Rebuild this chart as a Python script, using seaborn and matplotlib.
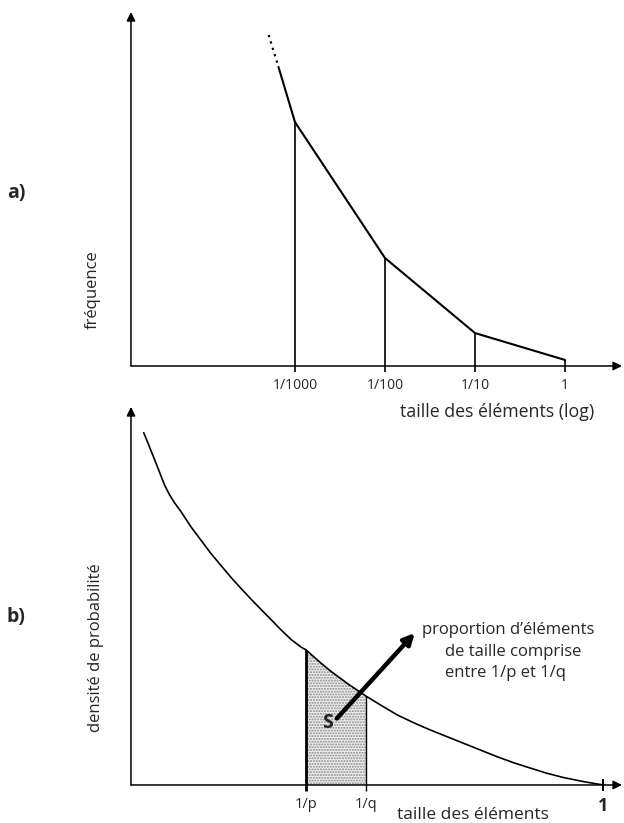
import numpy as np
import pandas as pd
import matplotlib
matplotlib.use("Agg")
import matplotlib.pyplot as plt
import seaborn as sns
from matplotlib.ticker import NullLocator

# panel a : frequency vs element size (log scale)
size_a = [1e-3, 1e-2, 1e-1, 1.0]
size_a_labels = ["1/1000", "1/100", "1/10", "1"]
freq_a = [68.9, 30.5, 9.3, 1.7]
# extension of the curve above 1/1000 (solid then dotted)
size_a_solid = [6.55e-4, 1e-3]
freq_a_solid = [84.5, 68.9]
size_a_dotted = [5.1e-4, 6.55e-4]
freq_a_dotted = [93.5, 84.5]

# panel b : probability density vs element size
size_b = [0.027, 0.039, 0.049, 0.060, 0.071, 0.081, 0.092, 0.106, 0.127,
          0.148, 0.169, 0.191, 0.212, 0.233, 0.254, 0.275, 0.297, 0.318,
          0.339, 0.360, 0.371, 0.400, 0.422, 0.460, 0.498, 0.528, 0.563,
          0.598, 0.633, 0.669, 0.703, 0.739, 0.775, 0.810, 0.845, 0.881,
          0.915, 0.958, 1.0]
dens_b = [93.2, 89.5, 86.4, 82.9, 79.4, 76.9, 74.7, 72.3, 68.3,
          64.8, 61.3, 58.0, 54.9, 52.0, 49.2, 46.5, 43.7, 41.0,
          38.5, 36.5, 35.7, 32.5, 30.2, 26.7, 23.5, 21.2, 18.6,
          16.5, 14.6, 12.8, 11.1, 9.3, 7.5, 5.9, 4.5, 3.1,
          2.0, 0.9, 0.0]
p_inv = 0.371
q_inv = 0.498
ticks_b = [p_inv, q_inv, 1.0]
ticks_b_labels = ["1/p", "1/q", "1"]

df_a = pd.DataFrame({"taille": size_a, "freq": freq_a})
df_b = pd.DataFrame({"taille": size_b, "dens": dens_b})

sns.set_style("white")
plt.rcParams["font.family"] = ["Open Sans", "DejaVu Sans"]

fig = plt.figure(figsize=(6.24, 8.23), dpi=100)
ax1 = fig.add_axes([0.2099, 0.5553, 0.7869, 0.4301])
ax2 = fig.add_axes([0.2099, 0.0462, 0.7869, 0.4593])


def draw_axes(ax):
    for s in ax.spines.values():
        s.set_visible(False)
    arrow = dict(arrowstyle="-|>", color="k", lw=1.1, mutation_scale=13,
                 shrinkA=0, shrinkB=0)
    ax.annotate("", xy=(1, 0), xytext=(0, 0), xycoords="axes fraction",
                arrowprops=arrow)
    ax.annotate("", xy=(0, 1), xytext=(0, 0), xycoords="axes fraction",
                arrowprops=arrow)
    ax.set_yticks([])
    ax.set_xlabel("")
    ax.set_ylabel("")
    ax.tick_params(axis="x", which="major", length=0, pad=9)


# ---- panel a ----
ax1.set_xscale("log")
sns.lineplot(data=df_a, x="taille", y="freq", color="k", lw=1.5, ax=ax1)
ax1.plot(size_a_solid, freq_a_solid, color="k", lw=1.5)
ax1.plot(size_a_dotted, freq_a_dotted, color="k", lw=1.6, ls=(0, (1.0, 2.0)))
# vertical lines, running a little below the axis as tick marks
ax1.vlines(size_a, -1.8, freq_a, color="k", lw=1.2, clip_on=False)
ax1.set_xlim(10 ** -4.822, 10 ** 0.633)
ax1.set_ylim(0, 100)
draw_axes(ax1)
ax1.xaxis.set_minor_locator(NullLocator())
ax1.set_xticks(size_a)
ax1.set_xticklabels(size_a_labels, fontsize=10)

# ---- panel b ----
sns.lineplot(data=df_b, x="taille", y="dens", color="k", lw=1.2, ax=ax2)
sel = df_b[(df_b["taille"] >= p_inv) & (df_b["taille"] <= q_inv)]
ax2.fill_between(sel["taille"], 0, sel["dens"], facecolor="#efefef",
                 hatch="......", edgecolor="#888888", lw=0)
ax2.vlines(p_inv, -1.6, dens_b[size_b.index(p_inv)], color="k", lw=2.0,
           clip_on=False)
ax2.vlines(q_inv, -1.6, dens_b[size_b.index(q_inv)], color="k", lw=1.0,
           clip_on=False)
ax2.vlines(1.0, -1.6, 1.6, color="k", lw=1.4, clip_on=False)
ax2.set_xlim(0, 1.040)
ax2.set_ylim(0, 100)
draw_axes(ax2)
ax2.set_xticks(ticks_b)
ax2.set_xticklabels(ticks_b_labels, fontsize=10.5)
ax2.get_xticklabels()[2].set_fontsize(13)
ax2.get_xticklabels()[2].set_fontweight("bold")

ax2.text(0.416, 16.3, "S", fontsize=14, fontweight="bold", ha="center",
         va="center")
ax2.annotate("", xy=(0.601, 40.2), xytext=(0.436, 17.6),
             arrowprops=dict(arrowstyle="-|>", color="k", lw=3.2,
                             mutation_scale=16, shrinkA=0, shrinkB=0))

# ---- texts ----
fig.text(16 / 624, 1 - 193 / 823, "a)", fontsize=14, fontweight="bold",
         ha="center", va="center")
fig.text(16 / 624, 1 - 617 / 823, "b)", fontsize=14, fontweight="bold",
         ha="center", va="center")
fig.text(93 / 624, 1 - 290 / 823, "fréquence", rotation=90, fontsize=12,
         ha="center", va="center")
fig.text(96 / 624, 1 - 648 / 823, "densité de probabilité", rotation=90,
         fontsize=12, ha="center", va="center")
fig.text(400 / 624, 1 - 412 / 823, "taille des éléments (log)", fontsize=12.8,
         ha="left", va="center")
fig.text(397 / 624, 1 - 815 / 823, "taille des éléments", fontsize=12.5,
         ha="left", va="center")
fig.text(422 / 624, 1 - 630 / 823, "proportion d’éléments", fontsize=12,
         ha="left", va="center")
fig.text(445 / 624, 1 - 652 / 823, "de taille comprise", fontsize=12,
         ha="left", va="center")
fig.text(445 / 624, 1 - 673 / 823, "entre 1/p et 1/q", fontsize=12,
         ha="left", va="center")

fig.savefig("out.png", dpi=100)
